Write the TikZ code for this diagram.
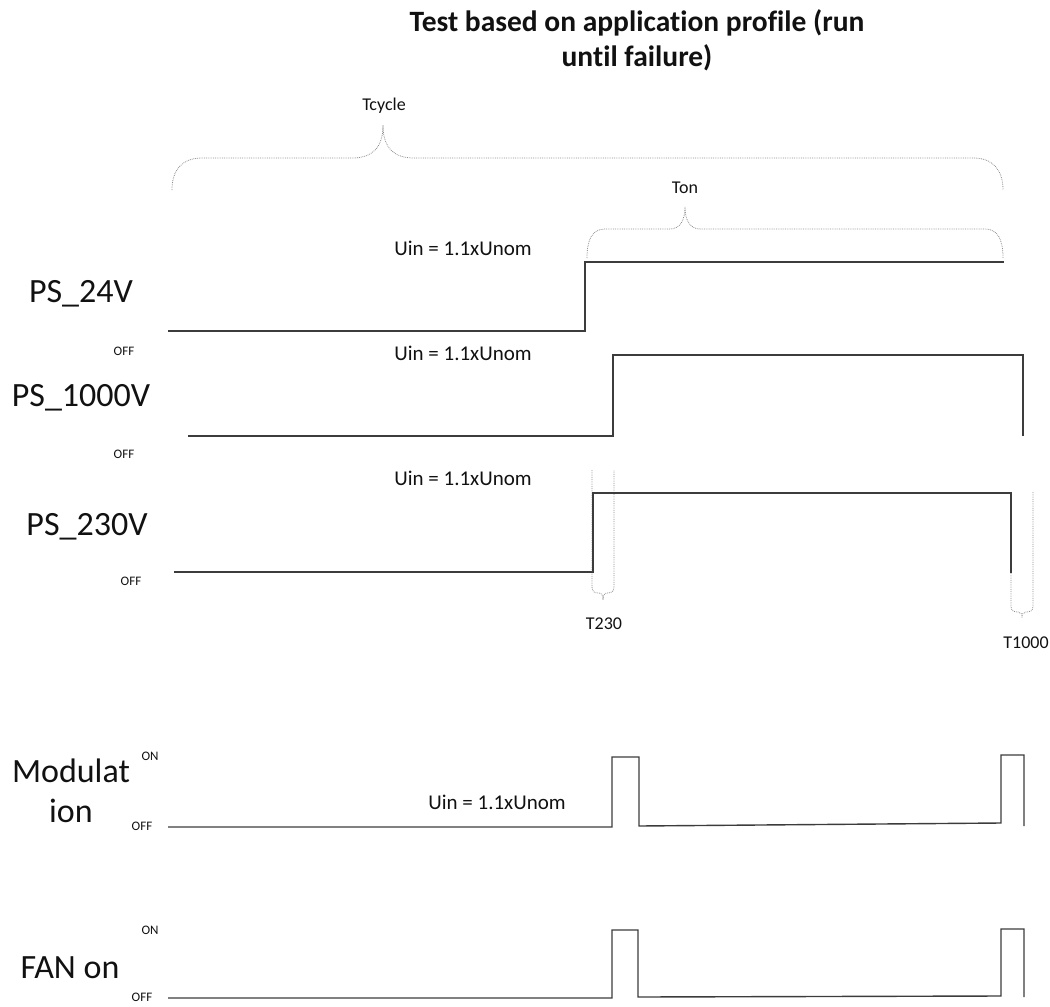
\documentclass[tikz,border=0pt]{standalone}
\usepackage{fontspec}
\setmainfont{Carlito}[Ligatures={NoCommon}]
\definecolor{tsInk}{HTML}{111111}
\definecolor{tsTrace}{HTML}{3C3C3C}
\definecolor{tsBrace}{HTML}{8E8E8E}
\tikzset{
  ts trace/.style={draw=tsTrace, line width=1.4pt, line join=miter},
  ts brace/.style={draw=tsBrace, line width=0.8pt, densely dotted},
  ts title/.style={font=\fontsize{29.5}{35}\selectfont\bfseries, text=tsInk, align=center},
  ts name/.style={font=\fontsize{34}{40}\selectfont, text=tsInk, anchor=base, align=center},
  ts label/.style={font=\fontsize{21}{25}\selectfont, text=tsInk, anchor=base},
  ts time/.style={font=\fontsize{18}{22}\selectfont, text=tsInk, anchor=base},
  ts state/.style={font=\fontsize{13}{15}\selectfont, text=tsInk, anchor=base},
}

\begin{document}
\begin{tikzpicture}[x=1pt, y=-1pt]
  \useasboundingbox (0,0) rectangle (1050,1007);

  % Title
  \node[ts title] (title) at (637,40) {Test based on application profile (run\\until failure)};

  % Braces for the cycle and on times
  \draw[ts brace] (172,190) .. controls (172,170) and (182,158) .. (202,158) -- (352,158)
    .. controls (372,158) and (383,148) .. (383,125)
    .. controls (383,148) and (394,158) .. (414,158) -- (973,158)
    .. controls (993,158) and (1003,170) .. (1003,190);
  \node[ts time] (tcycle) at (384,110) {Tcycle};
  \draw[ts brace] (587,258) .. controls (587,240) and (592,229) .. (605,229) -- (670,229)
    .. controls (680,229) and (685,220) .. (685,207)
    .. controls (685,220) and (690,229) .. (700,229) -- (985,229)
    .. controls (998,229) and (1003,240) .. (1003,258);
  \node[ts time] (ton) at (685,193) {Ton};

  % Switching delays
  \draw[ts brace] (592,470) -- (592,587) .. controls (592,592) and (595,593) .. (599,593)
    .. controls (602,593) and (603,596) .. (603,600)
    .. controls (603,596) and (604,593) .. (607,593)
    .. controls (611,593) and (614,592) .. (614,587) -- (614,470);
  \node[ts time] (t230) at (604,629) {T230};
  \draw[ts brace] (1011,492) -- (1011,606) .. controls (1011,611) and (1014,612) .. (1018,612)
    .. controls (1021,612) and (1022,614) .. (1022,618)
    .. controls (1022,614) and (1023,612) .. (1026,612)
    .. controls (1030,612) and (1033,611) .. (1033,606) -- (1033,492);
  \node[ts time] (t1000) at (1026,648) {T1000};

  % PS_24V
  \node[ts name] (ps24) at (81,302) {PS\_24V};
  \node[ts state] (off24) at (124,355) {OFF};
  \node[ts label] (uin24) at (463,255) {Uin = 1.1xUnom};
  \draw[ts trace] (168,331) -- (585,331) -- (585,262) -- (1004,262);

  % PS_1000V
  \node[ts name] (ps1000) at (81,406) {PS\_1000V};
  \node[ts state] (off1000) at (124,458) {OFF};
  \node[ts label] (uin1000) at (463,360) {Uin = 1.1xUnom};
  \draw[ts trace] (188,436) -- (613,436) -- (613,355) -- (1023,355) -- (1023,436);

  % PS_230V
  \node[ts name] (ps230) at (87,535) {PS\_230V};
  \node[ts state] (off230) at (131,585) {OFF};
  \node[ts label] (uin230) at (463,485) {Uin = 1.1xUnom};
  \draw[ts trace] (174,572) -- (593,572) -- (593,493) -- (1011,493) -- (1011,573);

  % Modulation
  \node[ts name] (mod) at (71,822) {Modulat\\ion};
  \node[ts state] (onmod) at (150,760) {ON};
  \node[ts state] (offmod) at (142,830) {OFF};
  \node[ts label] (uinmod) at (497,809) {Uin = 1.1xUnom};
  \draw[ts trace] (168,827) -- (612,827) -- (612,757) -- (639,757) -- (639,826)
    -- (1001,823) -- (1001,755) -- (1024,755) -- (1024,826);

  % FAN on
  \node[ts name] (fan) at (70,978) {FAN on};
  \node[ts state] (onfan) at (150,934) {ON};
  \node[ts state] (offfan) at (142,1001) {OFF};
  \draw[ts trace] (168,998) -- (612,998) -- (612,930) -- (638,930) -- (638,997)
    -- (1001,996) -- (1001,929) -- (1024,929) -- (1024,997);
\end{tikzpicture}
\end{document}
